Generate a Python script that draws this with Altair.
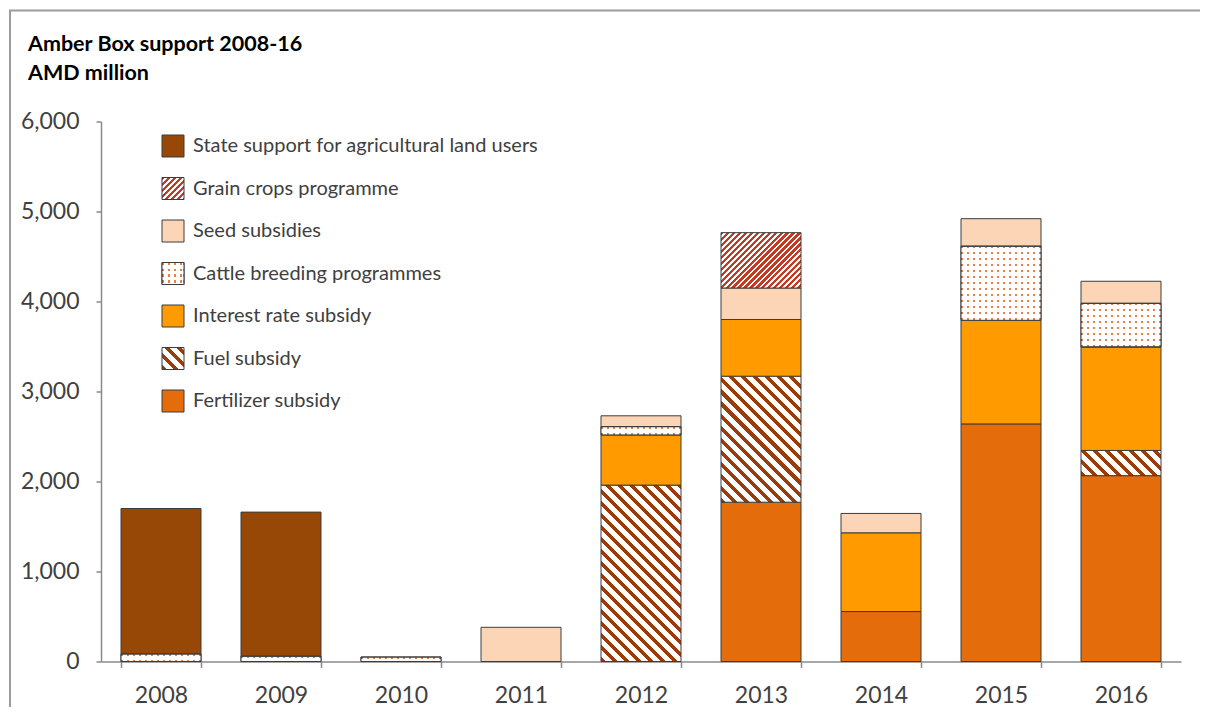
import math
import altair as alt

# ---------------- data ----------------
years = ["2008", "2009", "2010", "2011", "2012", "2013", "2014", "2015", "2016"]

# stacking order, bottom to top
series_names = [
    "Fertilizer subsidy",
    "Fuel subsidy",
    "Interest rate subsidy",
    "Cattle breeding programmes",
    "Seed subsidies",
    "Grain crops programme",
    "State support for agricultural land users",
]

fertilizer = [0, 0, 0, 0, 0, 1770, 555, 2640, 2065]
fuel = [0, 0, 0, 0, 1960, 1400, 0, 0, 280]
interest = [0, 0, 0, 0, 555, 630, 875, 1150, 1150]
cattle = [85, 60, 50, 0, 95, 0, 0, 825, 485]
seed = [0, 0, 0, 380, 120, 350, 215, 305, 245]
grain = [0, 0, 0, 0, 0, 615, 0, 0, 0]
state = [1615, 1600, 0, 0, 0, 0, 0, 0, 0]

series_values = [fertilizer, fuel, interest, cattle, seed, grain, state]

y_ticks = [0, 1000, 2000, 3000, 4000, 5000, 6000]

# ---------------- styling ----------------
PLOT_W, PLOT_H = 1080, 540
Y_MAX = 6000
BAR_W = PLOT_W / len(years) * (2 / 3)
LEG = 22
FONT = "Lato"
TEXT_COL = "#404040"
AXIS_COL = "#8a8a8a"
OUTLINE = "#3c3c3c"

SOLID = {
    "Fertilizer subsidy": "#e46c0a",
    "Interest rate subsidy": "#ff9b00",
    "Seed subsidies": "#fbd5b5",
    "State support for agricultural land users": "#974806",
}
GRAIN_COL = "#c23b22"
FUEL_COL = "#9a3d0b"
DOT_COL = "#ea8048"


def band_stops(dt, frac, ca, cb):
    stops = []
    i = 0
    while i * dt < 1:
        t0 = i * dt
        t1 = min(t0 + frac * dt, 1.0)
        t2 = min(t0 + dt, 1.0)
        stops += [
            {"offset": round(t0, 5), "color": ca},
            {"offset": round(t1, 5), "color": ca},
            {"offset": round(t1, 5), "color": cb},
            {"offset": round(t2, 5), "color": cb},
        ]
        i += 1
    return stops


def diag(w, h, period, frac, ca, cb, up):
    k = (w + h) / (w * w + h * h)
    if up:  # '////'
        x1, y1, x2, y2 = 0, 0, w * k, h * k
    else:  # '\\\\'
        x1, y1, x2, y2 = 0, 1, w * k, 1 - h * k
    dt = period * math.sqrt(2) / (w + h)
    return {"gradient": "linear", "x1": x1, "y1": y1, "x2": x2, "y2": y2,
            "stops": band_stops(dt, frac, ca, cb)}


def paint_for(name, w, h):
    if name == "Grain crops programme":
        return diag(w, h, 4.2, 0.55, GRAIN_COL, "#ffffff", True)
    if name == "Fuel subsidy":
        return diag(w, h, 8.5, 0.42, FUEL_COL, "#ffffff", False)
    if name == "Cattle breeding programmes":
        return {"gradient": "linear", "x1": 0, "y1": 0, "x2": 1, "y2": 0,
                "stops": band_stops(6.0 / w, 0.34, DOT_COL, "#ffffff")}
    return SOLID[name]


def overlay_for(name, w, h):
    # white mask with transparent rows: combined with vertical stripes -> dots
    return {"gradient": "linear", "x1": 0, "y1": 0, "x2": 0, "y2": 1,
            "stops": band_stops(6.0 / max(h, 1), 0.34, "rgba(255,255,255,0)", "#ffffff")}


rows = []
for i, name in enumerate(series_names):
    for j, yr in enumerate(years):
        v = series_values[i][j]
        if v <= 0:
            continue
        h = v * PLOT_H / Y_MAX
        row = {"year": yr, "series": name, "order": i, "value": v,
               "paint": paint_for(name, BAR_W, h)}
        if name == "Cattle breeding programmes":
            row["overlay"] = overlay_for(name, BAR_W, h)
        rows.append(row)

legend_order = list(reversed(series_names))
legend_rows = []
for name in legend_order:
    r = {"series": name, "paint": paint_for(name, LEG, LEG)}
    if name == "Cattle breeding programmes":
        r["overlay"] = overlay_for(name, LEG, LEG)
    legend_rows.append(r)

# ---------------- chart ----------------
base = alt.Chart(alt.Data(values=rows)).transform_stack(
    stack="value", groupby=["year"], as_=["v0", "v1"],
    sort=[alt.SortField("order", order="ascending")],
)

x_enc = alt.X(
    "year:N", sort=years, title=None,
    scale=alt.Scale(paddingInner=1 / 3, paddingOuter=1 / 6),
    axis=alt.Axis(labelAngle=0, tickBand="extent", tickSize=6, labelPadding=17,
                  labelFont=FONT, labelFontSize=23, labelColor=TEXT_COL,
                  domainColor=AXIS_COL, domainWidth=1.5, tickColor=AXIS_COL,
                  tickWidth=1.5, grid=False),
)
y_enc = alt.Y(
    "v0:Q", title=None,
    scale=alt.Scale(domain=[0, Y_MAX], nice=False),
    axis=alt.Axis(values=y_ticks, format=",d", tickSize=5, labelPadding=17,
                  labelFont=FONT, labelFontSize=23, labelColor=TEXT_COL,
                  domainColor=AXIS_COL, domainWidth=1.5, tickColor=AXIS_COL,
                  tickWidth=1.5, grid=False),
)

bars = base.mark_bar(stroke=OUTLINE, strokeWidth=1).encode(
    x=x_enc, y=y_enc, y2="v1:Q",
    fill=alt.Fill("paint:N", scale=None),
)
dots = base.transform_filter(
    alt.datum.series == "Cattle breeding programmes"
).mark_bar(stroke=OUTLINE, strokeWidth=1).encode(
    x=x_enc, y=y_enc, y2="v1:Q",
    fill=alt.Fill("overlay:N", scale=None),
)
bar_layer = alt.layer(bars, dots)

leg_y = alt.Y("series:N", sort=legend_order, axis=None,
              scale=alt.Scale(domain=legend_order, range=[24.5, 279.5], padding=0))
leg_base = alt.Chart(alt.Data(values=legend_rows))
leg_sq = leg_base.mark_square(size=LEG * LEG, stroke=OUTLINE, strokeWidth=1, opacity=1).encode(
    x=alt.value(72), y=leg_y, fill=alt.Fill("paint:N", scale=None)
)
leg_dots = leg_base.transform_filter(
    alt.datum.series == "Cattle breeding programmes"
).mark_square(size=LEG * LEG, stroke=OUTLINE, strokeWidth=1, opacity=1).encode(
    x=alt.value(72), y=leg_y, fill=alt.Fill("overlay:N", scale=None)
)
leg_text = leg_base.mark_text(align="left", baseline="middle", font=FONT,
                              fontSize=20, color=TEXT_COL).encode(
    x=alt.value(92), y=leg_y, text="series:N"
)
frame = alt.Chart(alt.Data(values=[{"frame": 1}])).mark_rect(
    fill="transparent", stroke="#9c9c9c", strokeWidth=2
).encode(x=alt.value(-91), x2=alt.value(1130), y=alt.value(-111), y2=alt.value(640))

legend_layer = alt.layer(frame, leg_sq, leg_dots, leg_text)

chart = alt.layer(bar_layer, legend_layer).resolve_scale(y="independent").properties(
    width=PLOT_W, height=PLOT_H,
    autosize=alt.AutoSizeParams(type="none"),
    padding={"left": 93, "top": 113.5, "right": 19, "bottom": 45},
    title=alt.TitleParams(
        text=["Amber Box support 2008-16", "AMD million"],
        anchor="start", frame="group", font=FONT, fontSize=21.5,
        fontWeight="bold", color="#000000", lineHeight=29, dx=-73, offset=0, dy=75,
    ),
).configure_view(strokeWidth=0)

chart.save("out.html", embed_options={"renderer": "svg", "actions": False})
